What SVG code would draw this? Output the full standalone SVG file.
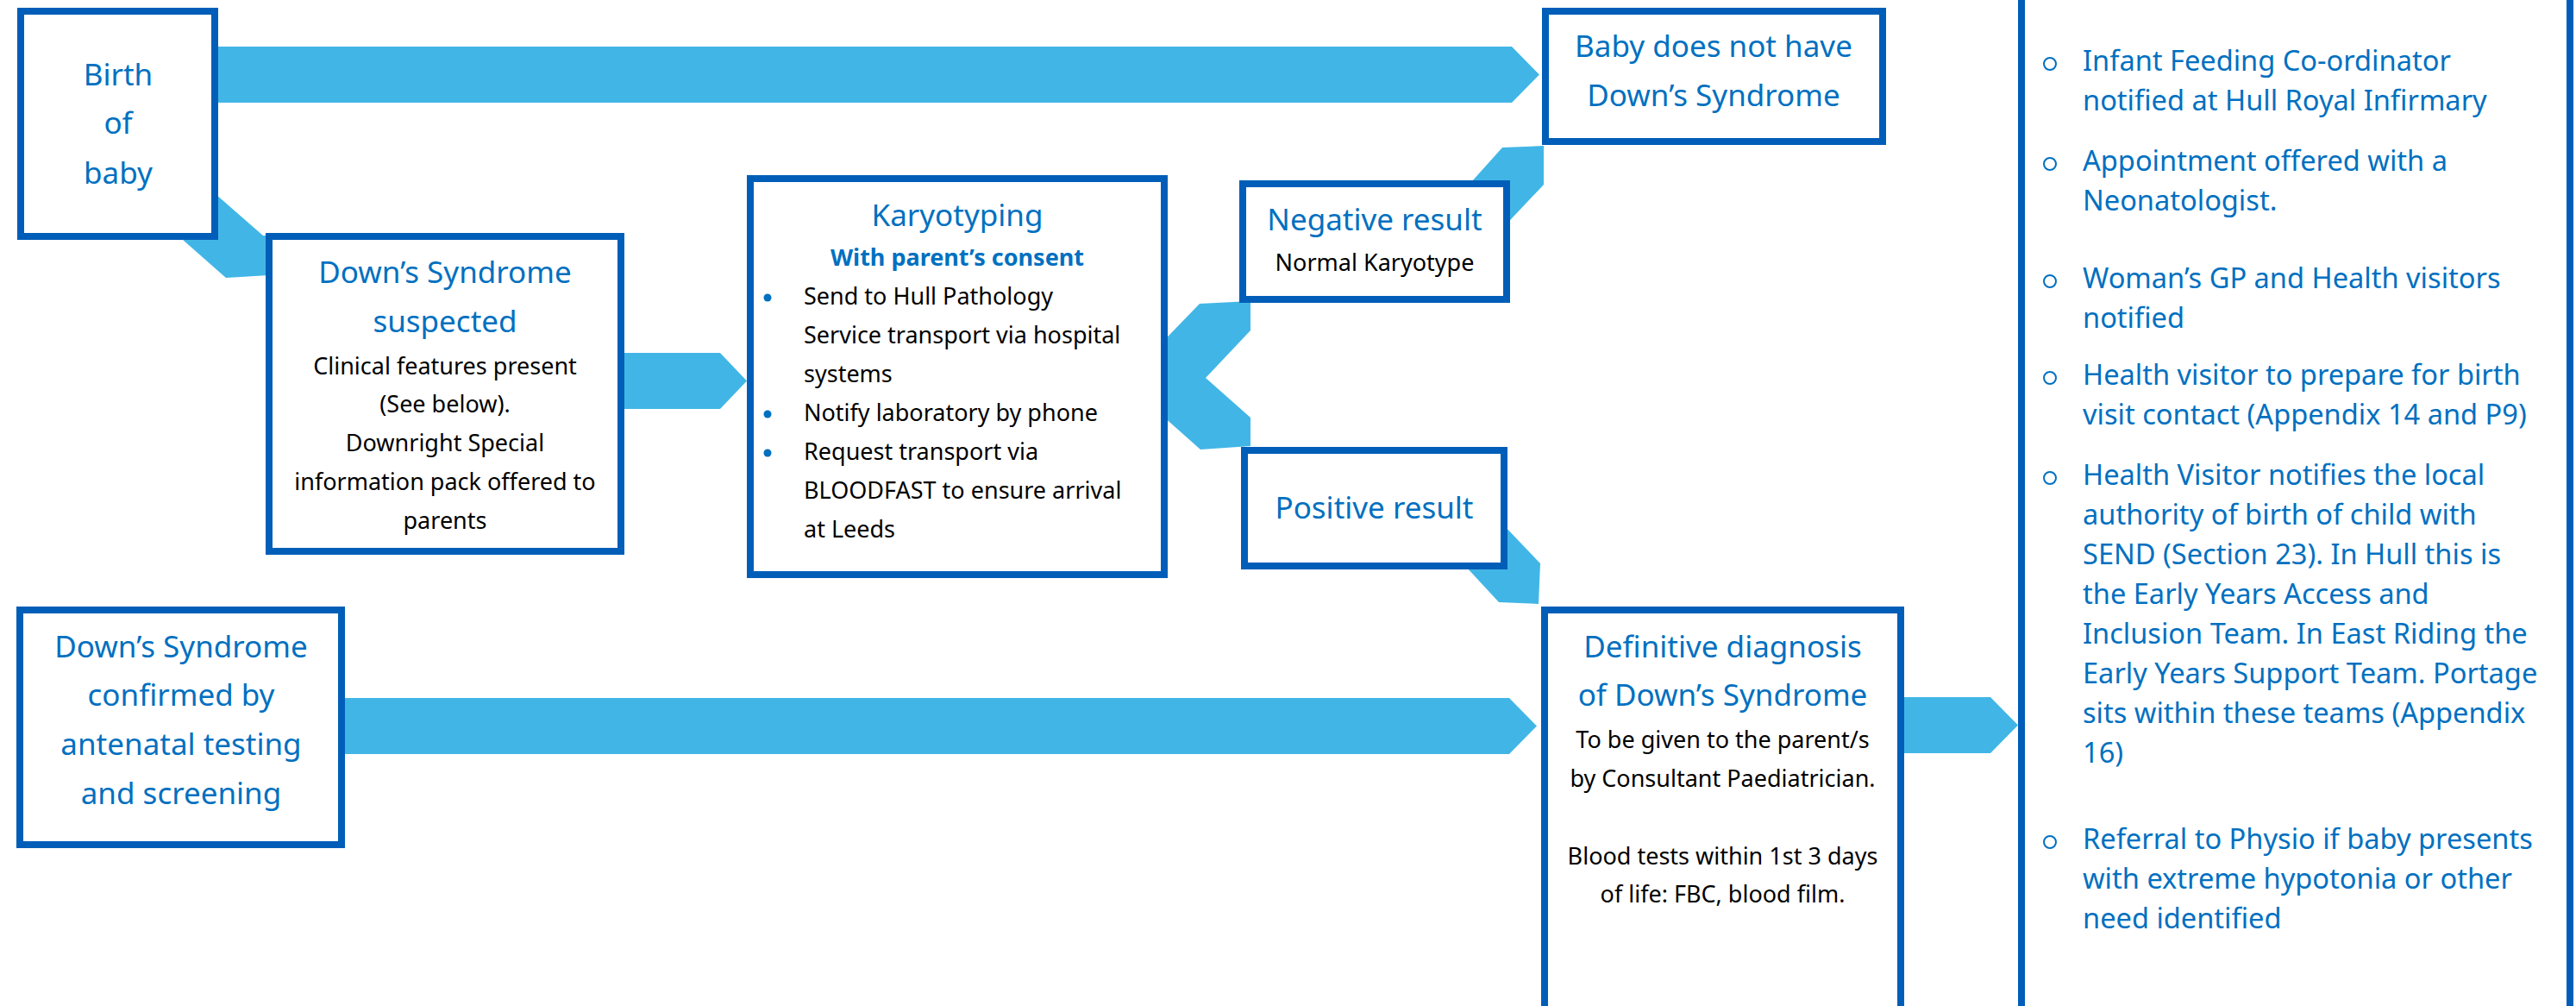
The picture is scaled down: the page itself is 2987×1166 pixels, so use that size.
<svg xmlns="http://www.w3.org/2000/svg" width="2987" height="1166" viewBox="0 0 2987 1166">
  <style>
    .box { fill: #ffffff; stroke: #005EB8; stroke-width: 8; }
    .arrow { fill: #41B6E6; stroke: none; }
    .title { font-family: "Noto Sans", "Open Sans", sans-serif; font-size: 35px; fill: #0070C0; text-anchor: middle; }
    .body { font-family: "Noto Sans", "Open Sans", sans-serif; font-size: 27px; fill: #000000; }
    .mid { text-anchor: middle; }
    .consent { font-family: "Noto Sans", "Open Sans", sans-serif; font-size: 27px; font-weight: bold; fill: #0070C0; text-anchor: middle; }
    .list { font-family: "Noto Sans", "Open Sans", sans-serif; font-size: 32.6px; fill: #0070C0; }
    .dot { fill: #0070C0; }
    .ring { fill: none; stroke: #0070C0; stroke-width: 2; }
  </style>

  <rect width="2987" height="1166" fill="#ffffff"/>

  <!-- block arrows linking the steps -->
  <g id="connectors">
    <polygon class="arrow" points="245,54 1753,54 1785,86.5 1753,119 245,119"/>
    <polygon class="arrow" points="235,212 305,273 312,273 312,319 262,322 195,263"/>
    <polygon class="arrow" points="715,409 835,409 866,441.5 835,474 715,474"/>
    <polygon class="arrow" points="1330,415 1391,352 1450,349 1450,383 1398,438 1330,509"/>
    <polygon class="arrow" points="1330,377 1398,438 1450,484 1450,517 1392,521 1330,466"/>
    <polygon class="arrow" points="1680,240 1742,171 1790,169 1790,214 1718,290"/>
    <polygon class="arrow" points="1720,584 1786,653 1784,700 1738,698 1675,630"/>
    <polygon class="arrow" points="395,809 1750,809 1782,841.5 1750,874 395,874"/>
    <polygon class="arrow" points="2200,808 2308,808 2340,840.5 2308,873 2200,873"/>
  </g>

  <g id="birth">
    <rect class="box" x="24" y="13" width="225" height="261"/>
    <text class="title" x="137" y="99">Birth</text>
    <text class="title" x="137" y="155">of</text>
    <text class="title" x="137" y="213">baby</text>
  </g>

  <g id="suspected">
    <rect class="box" x="312" y="274" width="408" height="365"/>
    <text class="title" x="516" y="328">Down’s Syndrome</text>
    <text class="title" x="516" y="385">suspected</text>
    <text class="body mid" x="516" y="434">Clinical features present</text>
    <text class="body mid" x="516" y="478">(See below).</text>
    <text class="body mid" x="516" y="523">Downright Special</text>
    <text class="body mid" x="516" y="568">information pack offered to</text>
    <text class="body mid" x="516" y="613">parents</text>
  </g>

  <g id="karyotyping">
    <rect class="box" x="870" y="207" width="480" height="459"/>
    <text class="title" x="1110" y="262">Karyotyping</text>
    <text class="consent" x="1110" y="308">With parent’s consent</text>
    <circle class="dot" cx="890" cy="345" r="4.5"/>
    <circle class="dot" cx="890" cy="480" r="4.5"/>
    <circle class="dot" cx="890" cy="525" r="4.5"/>
    <text class="body" x="932" y="353">Send to Hull Pathology</text>
    <text class="body" x="932" y="398">Service transport via hospital</text>
    <text class="body" x="932" y="443">systems</text>
    <text class="body" x="932" y="488">Notify laboratory by phone</text>
    <text class="body" x="932" y="533">Request transport via</text>
    <text class="body" x="932" y="578">BLOODFAST to ensure arrival</text>
    <text class="body" x="932" y="623">at Leeds</text>
  </g>

  <g id="negative">
    <rect class="box" x="1441" y="213" width="306" height="134"/>
    <text class="title" x="1594" y="267">Negative result</text>
    <text class="body mid" x="1594" y="314">Normal Karyotype</text>
  </g>

  <g id="positive">
    <rect class="box" x="1443" y="522" width="301" height="134"/>
    <text class="title" x="1593.5" y="601">Positive result</text>
  </g>

  <g id="no-downs">
    <rect class="box" x="1792" y="13" width="391" height="151"/>
    <text class="title" x="1987" y="66">Baby does not have</text>
    <text class="title" x="1987" y="123">Down’s Syndrome</text>
  </g>

  <g id="antenatal">
    <rect class="box" x="23" y="707" width="373" height="272"/>
    <text class="title" x="210" y="762">Down’s Syndrome</text>
    <text class="title" x="210" y="818">confirmed by</text>
    <text class="title" x="210" y="875">antenatal testing</text>
    <text class="title" x="210" y="932">and screening</text>
  </g>

  <g id="diagnosis">
    <rect class="box" x="1791" y="707" width="413" height="500"/>
    <text class="title" x="1997.5" y="762">Definitive diagnosis</text>
    <text class="title" x="1997.5" y="818">of Down’s Syndrome</text>
    <text class="body mid" x="1997.5" y="867">To be given to the parent/s</text>
    <text class="body mid" x="1997.5" y="912">by Consultant Paediatrician.</text>
    <text class="body mid" x="1997.5" y="1002">Blood tests within 1st 3 days</text>
    <text class="body mid" x="1997.5" y="1046">of life: FBC, blood film.</text>
  </g>

  <g id="follow-up">
    <rect class="box" x="2344" y="-20" width="636" height="1220"/>
    <circle class="ring" cx="2377" cy="74" r="7"/>
    <circle class="ring" cx="2377" cy="190" r="7"/>
    <circle class="ring" cx="2377" cy="326" r="7"/>
    <circle class="ring" cx="2377" cy="438" r="7"/>
    <circle class="ring" cx="2377" cy="554" r="7"/>
    <circle class="ring" cx="2377" cy="976" r="7"/>
    <text class="list" x="2415" y="82">Infant Feeding Co-ordinator</text>
    <text class="list" x="2415" y="128">notified at Hull Royal Infirmary</text>
    <text class="list" x="2415" y="198">Appointment offered with a</text>
    <text class="list" x="2415" y="244">Neonatologist.</text>
    <text class="list" x="2415" y="334">Woman’s GP and Health visitors</text>
    <text class="list" x="2415" y="380">notified</text>
    <text class="list" x="2415" y="446">Health visitor to prepare for birth</text>
    <text class="list" x="2415" y="492">visit contact (Appendix 14 and P9)</text>
    <text class="list" x="2415" y="562">Health Visitor notifies the local</text>
    <text class="list" x="2415" y="608">authority of birth of child with</text>
    <text class="list" x="2415" y="654">SEND (Section 23). In Hull this is</text>
    <text class="list" x="2415" y="700">the Early Years Access and</text>
    <text class="list" x="2415" y="746">Inclusion Team. In East Riding the</text>
    <text class="list" x="2415" y="792">Early Years Support Team. Portage</text>
    <text class="list" x="2415" y="838">sits within these teams (Appendix</text>
    <text class="list" x="2415" y="884">16)</text>
    <text class="list" x="2415" y="984">Referral to Physio if baby presents</text>
    <text class="list" x="2415" y="1030">with extreme hypotonia or other</text>
    <text class="list" x="2415" y="1076">need identified</text>
  </g>
</svg>
